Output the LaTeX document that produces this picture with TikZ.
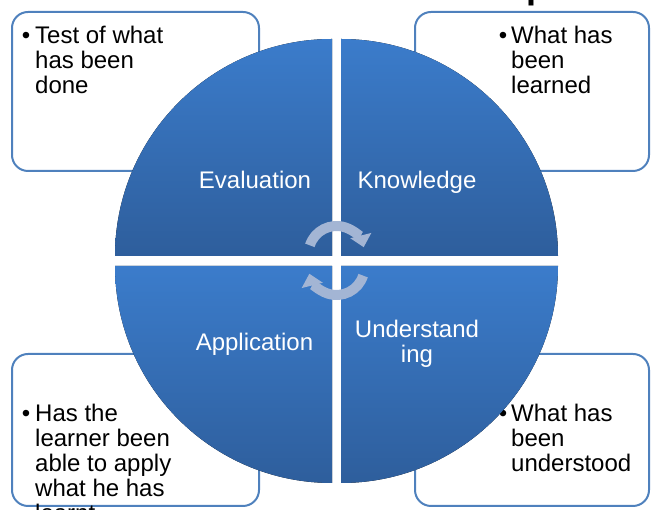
\documentclass[tikz,border=0pt]{standalone}
\usepackage{fontspec}
\setmainfont{Liberation Sans}
\usetikzlibrary{arrows.meta}
\definecolor{quadtop}{RGB}{59,124,203}
\definecolor{quadbot}{RGB}{46,94,156}
\definecolor{boxline}{RGB}{79,129,189}
\definecolor{cyclearrow}{RGB}{163,181,212}
\begin{document}
\begin{tikzpicture}[x=1pt,y=1pt,
	quad/.style={top color=quadtop,bottom color=quadbot},
	infobox/.style={draw=boxline,line width=2pt,rounded corners=16pt},
	quadlabel/.style={text=white,font=\fontsize{24}{25}\selectfont,align=center,anchor=base,inner sep=0pt},
	boxtext/.style={font=\fontsize{24}{25}\selectfont,align=left,anchor=base west,inner sep=0pt},
	cyclearr/.style={draw=cyclearrow,line width=10pt,-{Triangle[width=21pt,length=12pt]}}]
	\useasboundingbox (0,0) rectangle (651,510);
	\clip (0,0) rectangle (651,510);
	\node[anchor=base west,inner sep=0pt,font=\bfseries\fontsize{36}{36}\selectfont] (titlep) at (526.5,511.5) {p};
	\draw[infobox] (12,339) rectangle (259,498);
	\draw[infobox] (415,339) rectangle (649,498);
	\draw[infobox] (12,4) rectangle (259,156);
	\draw[infobox] (415,4) rectangle (649,156);
	\node[boxtext] (evaltxt) at (35,416.5) {\llap{•\hspace{5pt}}Test of what\\has been\\done};
	\node[boxtext] (knowtxt) at (511,416.5) {\llap{•\hspace{4pt}}What has\\been\\learned};
	\node[boxtext] (appltxt) at (35,-12) {\llap{•\hspace{5pt}}Has the\\learner been\\able to apply\\what he has\\learnt};
	\node[boxtext] (undertxt) at (511,38.5) {\llap{•\hspace{4pt}}What has\\been\\understood};
	\fill[quad] (332,254) -- (115,254) arc[start angle=180,end angle=90,radius=217] -- cycle;
	\fill[quad] (341,254) -- (558,254) arc[start angle=0,end angle=90,radius=217] -- cycle;
	\fill[quad] (332,244) -- (115,244) arc[start angle=180,end angle=270,radius=217] -- cycle;
	\fill[quad] (341,244) -- (558,244) arc[start angle=0,end angle=-90,radius=217] -- cycle;
	\node[quadlabel] (eval) at (255,321.5) {Evaluation};
	\node[quadlabel] (know) at (417,321.5) {Knowledge};
	\node[quadlabel] (appl) at (254.5,159.5) {Application};
	\node[quadlabel] (under) at (417,147.5) {Understand\\ing};
	\draw[cyclearr] (336.5,256) ++(162:28) arc[start angle=162,end angle=14,radius=28];
	\draw[cyclearr] (336.5,243) ++(-18:28) arc[start angle=-18,end angle=-166,radius=28];
\end{tikzpicture}
\end{document}
